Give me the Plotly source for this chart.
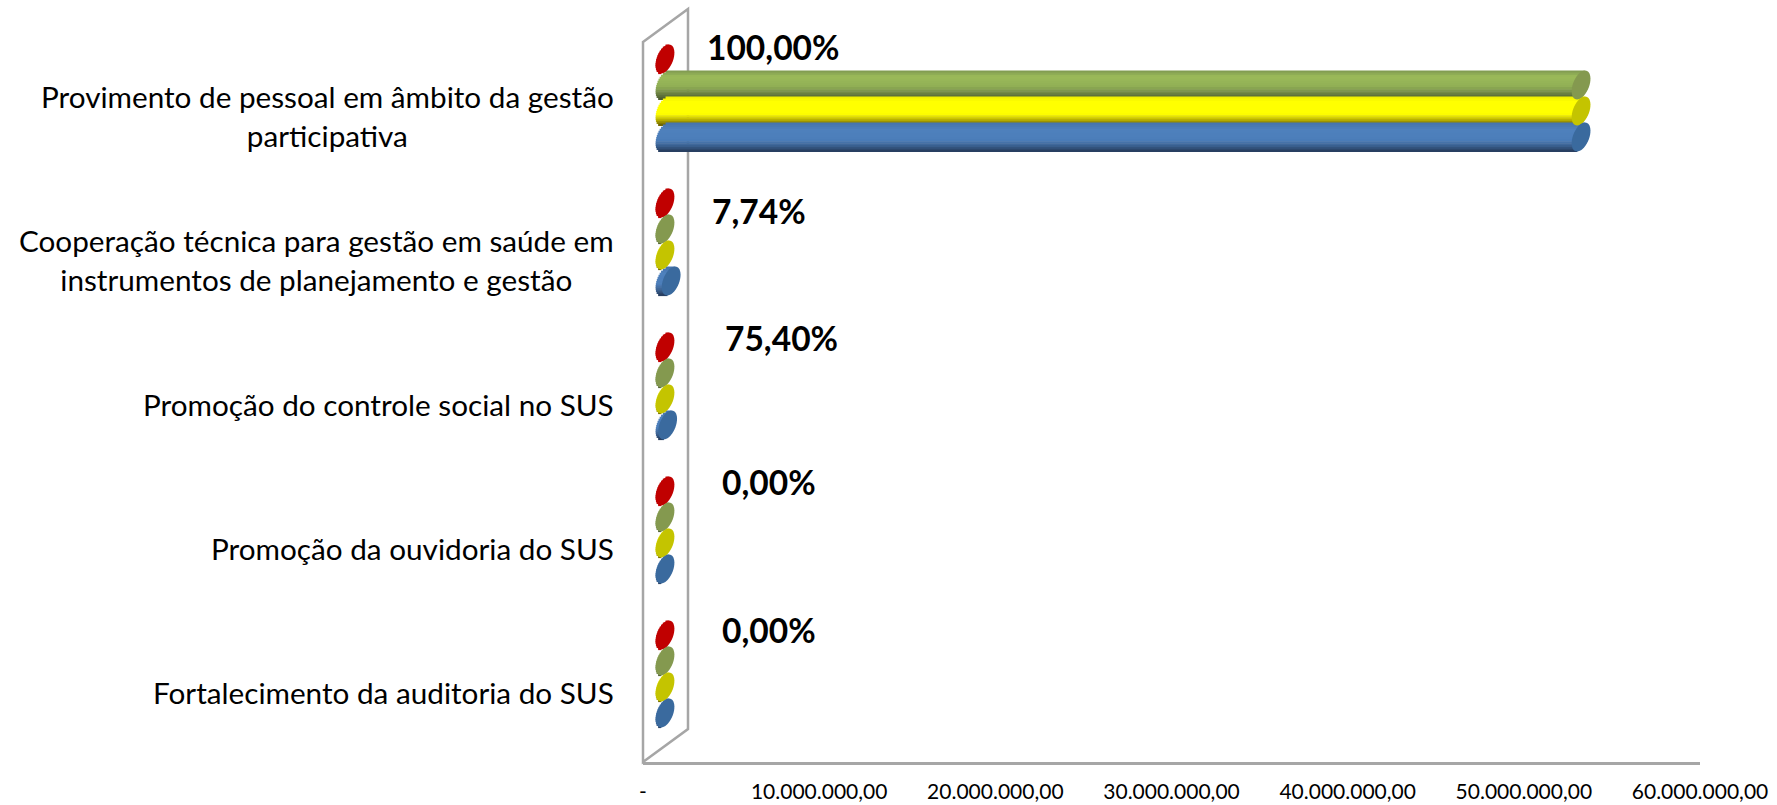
import math
import plotly.graph_objects as go

categories = [
    "Provimento de pessoal em âmbito da gestão<br>participativa",
    "Cooperação técnica para gestão em saúde em<br>instrumentos de planejamento e gestão",
    "Promoção do controle social no SUS",
    "Promoção da ouvidoria do SUS",
    "Fortalecimento da auditoria do SUS",
]
red_values = [0, 0, 0, 0, 0]
green_values = [52000000, 0, 0, 0, 0]
yellow_values = [52000000, 0, 0, 0, 0]
blue_values = [52000000, 350000, 150000, 0, 0]
percent_labels = ["100,00%", "7,74%", "75,40%", "0,00%", "0,00%"]
tick_values = [0, 10000000, 20000000, 30000000, 40000000, 50000000, 60000000]
tick_labels = ["-", "10.000.000,00", "20.000.000,00", "30.000.000,00",
               "40.000.000,00", "50.000.000,00", "60.000.000,00"]

W, H = 1777, 805
X0, X1 = 643, 1700          # front axis pixels
DX, DY = 22, 16             # depth shift of the bar plane
PAD = 20                    # room left of zero for the rounded bar ends
Y_TOP, Y_BOT = 42, 762
PX_X = (X1 - X0) / 60000000
PX_ROW = (Y_BOT - Y_TOP) / len(categories)
A, S, B = 8.5, 4.0, 14.5    # ellipse half-width, shear, half-height
FONT = "Lato, Carlito, Calibri, sans-serif"
GREY = "#a6a6a6"
N = 14


def mix(stops, t):
    for (t0, c0), (t1, c1) in zip(stops, stops[1:]):
        if t <= t1:
            f = (t - t0) / (t1 - t0) if t1 > t0 else 0
            return "rgb(%d,%d,%d)" % tuple(round(a + (b - a) * f) for a, b in zip(c0, c1))
    return "rgb(%d,%d,%d)" % stops[-1][1]


series = [
    ("red", red_values, -39, "#c00000",
     [(0, (192, 0, 0)), (1, (192, 0, 0))]),
    ("green", green_values, -13, "#84994f",
     [(0, (125, 150, 80)), (0.2, (155, 187, 89)), (0.55, (145, 175, 85)),
      (0.85, (100, 120, 62)), (1, (70, 85, 45))]),
    ("yellow", yellow_values, 13, "#c4c400",
     [(0, (235, 235, 0)), (0.15, (255, 255, 0)), (0.6, (255, 255, 0)),
      (0.85, (170, 160, 0)), (1, (95, 85, 0))]),
    ("blue", blue_values, 39, "#3a6a9e",
     [(0, (70, 115, 170)), (0.25, (79, 129, 189)), (0.6, (75, 125, 185)),
      (0.85, (55, 90, 135)), (1, (35, 55, 85))]),
]

fig = go.Figure()

# invisible trace that keeps the front axis alive
fig.add_trace(go.Scatter(x=[0], y=[0], xaxis="x", yaxis="y", mode="markers",
                         marker=dict(opacity=0), hoverinfo="skip", showlegend=False))

row_positions = list(range(len(categories)))
strip_px = 2 * B / N
shapes = [dict(type="path", xref="paper", yref="paper", layer="below",
               path="M %f %f L %f %f L %f %f L %f %f Z" % (
                   X0 / W, 1 - Y_TOP / H, (X0 + 45) / W, 1 - 9 / H,
                   (X0 + 45) / W, 1 - (Y_BOT - 33) / H, X0 / W, 1 - Y_BOT / H),
               line=dict(color=GREY, width=2.5), fillcolor="white")]

for name, vals, off, cap, stops in series:
    for k in range(N):
        t = (k + 0.5) / N
        u = 1 - 2 * t        # +1 at the top, -1 at the bottom
        chord = A * math.sqrt(max(0, 1 - u * u))
        base = [(S * u - chord) / PX_X] * len(vals)
        ends = [v + S * u / PX_X for v in vals]
        fig.add_trace(go.Bar(
            y=row_positions, x=[e - b for e, b in zip(ends, base)], base=base,
            orientation="h", xaxis="x2", yaxis="y2",
            offset=(off - B + k * strip_px) / PX_ROW,
            width=(strip_px + 0.6) / PX_ROW,
            marker=dict(color=mix(stops, t), line=dict(width=0)),
            hoverinfo="skip", showlegend=False))
    for i, v in zip(row_positions, vals):
        pts = []
        for j in range(40):
            th = 2 * math.pi * j / 40
            px = A * math.cos(th) + S * math.sin(th)
            py = B * math.sin(th)
            pts.append((v + px / PX_X, i + (off - py) / PX_ROW))
        path = "M " + " L ".join("%.1f %.5f" % p for p in pts) + " Z"
        shapes.append(dict(type="path", xref="x2", yref="y2", layer="above",
                           path=path, fillcolor=cap, line=dict(width=0)))

annotations = []
for i, c in enumerate(categories):
    annotations.append(dict(
        xref="paper", yref="paper", x=616 / W, y=1 - (116 + PX_ROW * i) / H,
        xanchor="right", yanchor="middle", align="center", showarrow=False,
        text=c, font=dict(family=FONT, size=29.7, color="#000000")))

label_px = [(773, 47), (759, 211), (781, 338), (769, 482), (769, 630)]
for txt, (lx, ly) in zip(percent_labels, label_px):
    annotations.append(dict(
        xref="paper", yref="paper", x=lx / W, y=1 - ly / H,
        xanchor="center", yanchor="middle", showarrow=False,
        text="<b>%s</b>" % txt, font=dict(family=FONT, size=33.5, color="#000000")))

fig.update_layout(
    width=W, height=H, autosize=False,
    margin=dict(l=0, r=0, t=0, b=0, pad=0, autoexpand=False),
    paper_bgcolor="white", plot_bgcolor="rgba(0,0,0,0)",
    barmode="overlay", showlegend=False,
    shapes=shapes, annotations=annotations,
    xaxis=dict(domain=[X0 / W, X1 / W], range=[0, 60000000], anchor="y",
               tickmode="array", tickvals=tick_values, ticktext=tick_labels,
               ticks="", showgrid=False, zeroline=False, showline=True,
               linecolor=GREY, linewidth=2.5, ticklabelstandoff=9,
               tickfont=dict(family=FONT, size=21, color="#000000")),
    yaxis=dict(domain=[1 - Y_BOT / H, 1 - Y_TOP / H], range=[0, 1], anchor="x",
               visible=False),
    xaxis2=dict(domain=[(X0 + DX - PAD) / W, (X1 + DX) / W],
                range=[-PAD / PX_X, 60000000], anchor="y2", visible=False),
    yaxis2=dict(domain=[1 - (Y_BOT - DY) / H, 1 - (Y_TOP - DY) / H],
                range=[len(categories) - 0.5, -0.5], anchor="x2", visible=False),
)

fig.write_html("out.html", config=dict(displayModeBar=False),
               post_script="document.body.style.margin='0';document.body.style.overflow='hidden';")
